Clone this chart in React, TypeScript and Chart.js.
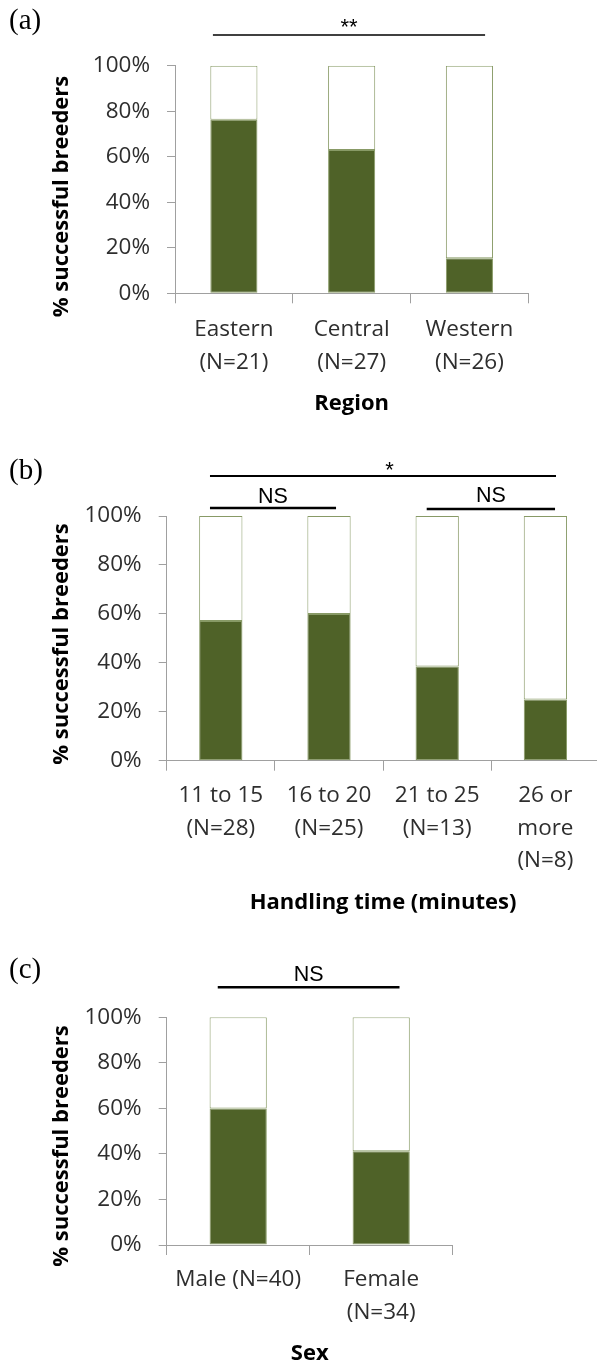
import React, { useEffect, useRef } from "react";
import { Chart, registerables } from "chart.js";

Chart.register(...registerables);

// ---- Data -------------------------------------------------------------
// (a) Region
const regionNames = ["Eastern", "Central", "Western"];
const regionN = [21, 27, 26];
const regionSuccess = [76.2, 63.0, 15.4];

// (b) Handling time (minutes)
const handlingNames = [["11 to 15"], ["16 to 20"], ["21 to 25"], ["26 or", "more"]];
const handlingN = [28, 25, 13, 8];
const handlingSuccess = [57.1, 60.0, 38.5, 25.0];

// (c) Sex
const sexNames = ["Male", "Female"];
const sexN = [40, 34];
const sexSuccess = [60.0, 41.2];

const yTitle = "% successful breeders";
const yTickStep = 20;

// ---- Styling ----------------------------------------------------------
const GREEN = "#4F6228";
const EDGE = "#889A66";
const AXIS = "#A0A0A0";
const TICK_TEXT = "#2E2E2E";
const SANS = '"Open Sans", "Noto Sans", sans-serif';
const ARIAL = '"Liberation Sans", Arial, sans-serif';
const SERIF = '"Liberation Serif", "Times New Roman", serif';
const TICK_SIZE = 22.5;

const regionLabels = regionNames.map((n, i) => [n, `(N=${regionN[i]})`]);
const handlingLabels = handlingNames.map((lines, i) => [...lines, `(N=${handlingN[i]})`]);
const sexLabels = [[`${sexNames[0]} (N=${sexN[0]})`], [sexNames[1], `(N=${sexN[1]})`]];

type Bracket = {
  from: number;
  to: number;
  lineY: number;
  textY: number;
  text: string;
  lw: number;
  size: number;
  textAt?: number;
};

type Panel = {
  top: number;
  width: number;
  height: number;
  area: { left: number; right: number; top: number; bottom: number };
  labels: string[][];
  success: number[];
  xPad: number;
  panelLabel: string;
  panelBaseline: number;
  yTitleX: number;
  yTitleY: number;
  xTitle: string;
  xTitleBaseline: number;
  brackets: Bracket[];
};

const panels: Panel[] = [
  {
    top: 0,
    width: 597,
    height: 430,
    area: { left: 175, right: 528.3, top: 65.7, bottom: 293.3 },
    labels: regionLabels,
    success: regionSuccess,
    xPad: 10.5,
    panelLabel: "(a)",
    panelBaseline: 29.3,
    yTitleX: 68,
    yTitleY: 196.5,
    xTitle: "Region",
    xTitleBaseline: 410,
    brackets: [
      { from: -0.178, to: 2.133, lineY: 35, textY: 34, text: "**", lw: 1.5, size: 22 },
    ],
  },
  {
    top: 430,
    width: 612,
    height: 490,
    area: { left: 166.7, right: 599.5, top: 516, bottom: 760.7 },
    labels: handlingLabels,
    success: handlingSuccess,
    xPad: 9,
    panelLabel: "(b)",
    panelBaseline: 479.3,
    yTitleX: 68,
    yTitleY: 644,
    xTitle: "Handling time (minutes)",
    xTitleBaseline: 909,
    brackets: [
      { from: -0.1, to: 3.098, lineY: 476, textY: 477, text: "*", lw: 2, size: 22, textAt: 1.56 },
      { from: -0.1, to: 1.065, lineY: 508, textY: 503.3, text: "NS", lw: 2.5, size: 21.5 },
      { from: 1.903, to: 3.089, lineY: 509, textY: 501.7, text: "NS", lw: 2.5, size: 21.5 },
    ],
  },
  {
    top: 920,
    width: 597,
    height: 445,
    area: { left: 166.7, right: 452.7, top: 1017.3, bottom: 1245 },
    labels: sexLabels,
    success: sexSuccess,
    xPad: 8.75,
    panelLabel: "(c)",
    panelBaseline: 978.3,
    yTitleX: 68,
    yTitleY: 1146,
    xTitle: "Sex",
    xTitleBaseline: 1360,
    brackets: [
      { from: -0.143, to: 1.128, lineY: 987.3, textY: 980.7, text: "NS", lw: 2.5, size: 21.5 },
    ],
  },
];

// Draws the panel letter, axis titles and significance brackets.
function decorations(p: Panel) {
  return {
    id: "decorations",
    afterDraw(chart: any) {
      const ctx = chart.ctx as CanvasRenderingContext2D;
      const x = chart.scales.x;
      const area = chart.chartArea;
      const off = p.top;
      ctx.save();
      ctx.fillStyle = "#000";
      ctx.strokeStyle = "#000";

      ctx.font = `29px ${SERIF}`;
      ctx.textAlign = "left";
      ctx.textBaseline = "alphabetic";
      ctx.fillText(p.panelLabel, 9, p.panelBaseline - off);

      ctx.font = `bold 22px ${SANS}`;
      ctx.textAlign = "center";
      ctx.fillText(p.xTitle, (area.left + area.right) / 2, p.xTitleBaseline - off);

      ctx.save();
      ctx.translate(p.yTitleX, p.yTitleY - off);
      ctx.rotate(-Math.PI / 2);
      ctx.fillText(yTitle, 0, 0);
      ctx.restore();

      for (const b of p.brackets) {
        const x0 = x.getPixelForValue(b.from);
        const x1 = x.getPixelForValue(b.to);
        ctx.lineWidth = b.lw;
        ctx.beginPath();
        ctx.moveTo(x0, b.lineY - off);
        ctx.lineTo(x1, b.lineY - off);
        ctx.stroke();
        const tx = b.textAt !== undefined ? x.getPixelForValue(b.textAt) : (x0 + x1) / 2;
        ctx.font = `${b.size}px ${ARIAL}`;
        ctx.textAlign = "center";
        ctx.fillText(b.text, tx, b.textY - off);
      }
      ctx.restore();
    },
  };
}

function PanelChart({ p }: { p: Panel }) {
  const ref = useRef<HTMLCanvasElement>(null);

  useEffect(() => {
    const canvas = ref.current;
    if (!canvas) return;
    const areaTop = p.area.top - p.top;
    const areaBottom = p.area.bottom - p.top;
    const lineHeight = 32.5;

    const barStyle = {
      borderColor: EDGE,
      borderWidth: 1,
      borderSkipped: false as const,
      barPercentage: 0.4,
      categoryPercentage: 1,
    };

    const chart = new Chart(canvas, {
      type: "bar",
      data: {
        labels: p.labels,
        datasets: [
          { label: "Successful", data: p.success, backgroundColor: GREEN, ...barStyle },
          {
            label: "Unsuccessful",
            data: p.success.map((v) => 100 - v),
            backgroundColor: "#FFFFFF",
            ...barStyle,
          },
        ],
      },
      options: {
        animation: false,
        responsive: false,
        maintainAspectRatio: false,
        layout: {
          padding: { left: 0, top: areaTop, right: p.width - p.area.right, bottom: 0 },
        },
        plugins: {
          legend: { display: false },
          tooltip: { enabled: false },
        },
        scales: {
          x: {
            type: "category",
            stacked: true,
            afterFit: (s: any) => {
              s.height = p.height - areaBottom;
            },
            grid: {
              offset: true,
              drawOnChartArea: false,
              drawTicks: true,
              tickLength: 10,
              color: AXIS,
              lineWidth: 1,
            },
            border: { display: true, color: AXIS, width: 1 },
            ticks: {
              color: TICK_TEXT,
              font: { family: SANS, size: TICK_SIZE, lineHeight: lineHeight / TICK_SIZE },
              padding: p.xPad,
              maxRotation: 0,
              minRotation: 0,
              autoSkip: false,
            },
          },
          y: {
            stacked: true,
            min: 0,
            max: 100,
            afterFit: (s: any) => {
              s.width = p.area.left;
            },
            grid: {
              drawOnChartArea: false,
              drawTicks: true,
              tickLength: 8,
              color: AXIS,
              lineWidth: 1,
            },
            border: { display: true, color: AXIS, width: 1 },
            ticks: {
              stepSize: yTickStep,
              color: TICK_TEXT,
              padding: 17,
              font: { family: SANS, size: TICK_SIZE },
              callback: (v: any) => `${v}%`,
            },
          },
        },
      },
      plugins: [decorations(p)],
    });

    return () => chart.destroy();
  }, [p]);

  return (
    <canvas
      ref={ref}
      width={p.width}
      height={p.height}
      style={{
        position: "absolute",
        left: 0,
        top: p.top,
        width: p.width,
        height: p.height,
        display: "block",
      }}
    />
  );
}

export default function App() {
  return (
    <div
      style={{
        position: "absolute",
        left: 0,
        top: 0,
        width: 597,
        height: 1365,
        overflow: "hidden",
        background: "#FFFFFF",
      }}
    >
      {panels.map((p) => (
        <PanelChart key={p.panelLabel} p={p} />
      ))}
    </div>
  );
}
